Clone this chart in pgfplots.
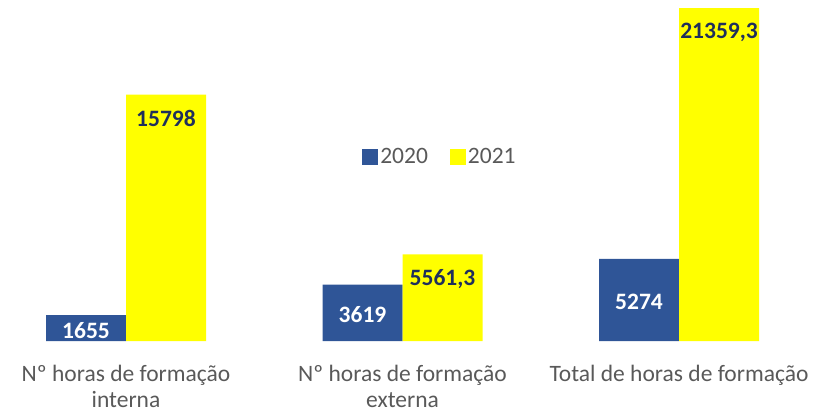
\documentclass[border=0pt]{standalone}
\usepackage{fontspec}
\setmainfont{Carlito}
\usepackage{pgfplots}
\pgfplotsset{compat=1.18}
\definecolor{cblue}{HTML}{2F5597}
\definecolor{cyel}{HTML}{FFFF00}
\definecolor{cnavy}{HTML}{1F2F5C}
\definecolor{cgray}{HTML}{595959}
\begin{document}
\begin{tikzpicture}
\useasboundingbox (0pt,-72pt) rectangle (827pt,341pt);
\begin{axis}[
  at={(0pt,0pt)}, anchor=south west,
  scale only axis,
  width=827pt, height=341pt,
  xmin=-0.4557, xmax=2.535,
  ymin=0, ymax=21873,
  axis lines=none,
  clip=false,
  ybar=0pt,
  bar width=80pt,
  xtick={0,1,2},
  xticklabels={{Nº horas de formação\\interna},{Nº horas de formação\\externa},{Total de horas de formação}},
  hide axis=false,
  axis line style={draw=none},
  major tick length=0pt,
  xticklabel style={font=\fontsize{23.5}{26}\selectfont, text=cgray, align=center, anchor=north, yshift=-21pt},
  yticklabels={},
  ytick=\empty,
  legend style={at={(rel axis cs:0.532,0.54)}, anchor=center, draw=none, fill=none,
    font=\fontsize{23.5}{27}\selectfont, text=cgray, legend columns=2,
    /tikz/every even column/.append style={column sep=20pt}},
  legend image code/.code={\draw[#1, draw=none] (-4pt,-8pt) rectangle (12pt,8pt);},
]
\addplot[fill=cblue, draw=none,
  nodes near coords,
  visualization depends on={y \as \rawy},
  every node near coord/.append style={anchor=center, font=\fontsize{23.5}{27}\bfseries\selectfont, text=white,
    shift={(axis direction cs:0,-0.5*\rawy)}, yshift=-2pt},
  point meta=explicit symbolic]
  table[meta=lab] {
  x y lab
  0 1655 1655
  1 3619 3619
  2 5274 5274
  };
\addplot[fill=cyel, draw=none,
  nodes near coords,
  every node near coord/.append style={anchor=north, font=\fontsize{23.5}{27}\bfseries\selectfont, text=cnavy, yshift=-12pt},
  point meta=explicit symbolic]
  table[meta=lab] {
  x y lab
  0 15798 15798
  1 5561.3 {5561,3}
  2 21359.3 {21359,3}
  };
\legend{2020,2021}
\end{axis}
\end{tikzpicture}
\end{document}
